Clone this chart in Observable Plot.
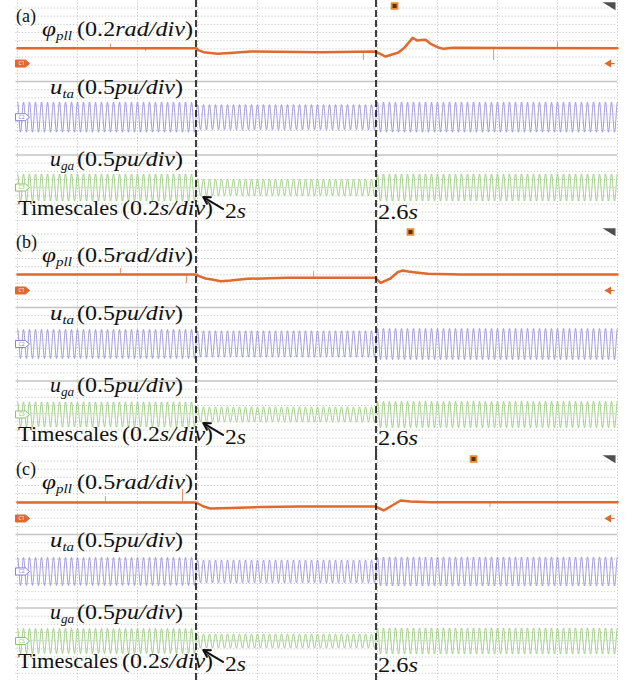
<!DOCTYPE html>
<html><head><meta charset="utf-8">
<script src="https://cdn.jsdelivr.net/npm/d3@7"></script>
<script src="https://cdn.jsdelivr.net/npm/@observablehq/plot@0.6"></script>
<style>
html,body{margin:0;padding:0;background:#fff;}
#wrap{position:relative;width:633px;height:680px;overflow:hidden;}
#wrap > svg{display:block;}
#overlay{position:absolute;left:0;top:0;pointer-events:none;}
</style></head><body><div id="wrap"></div>
<script>
// ---------- layout / scope settings ----------
const W = 633;
const panelNames = ["(a)", "(b)", "(c)"];
const panelTop = [0, 226, 453];
const panelH = [226, 227, 227];
const tStart = 1.405, tEnd = 3.405;                 // 0.2 s/div, 10 div
const gridTimes = [1.405, 1.605, 1.805, 2.005, 2.205, 2.405, 2.605, 2.805, 3.005, 3.205, 3.405];
const divLines = [0,1,2,3,4,5,6,7,8,10,11,12,13,14,15,16,17,19,20,21,22,23,24,25,26,27];
const sepDivs = [9, 18];
const eventTimes = [2.0, 2.6];
const gridHz = 50;

// ---------- channel scales / offsets ----------
const phiScaleLabels = ["0.2", "0.5", "0.5"];      // rad/div
const phiScale = [0.2, 0.5, 0.5];
const uScale = 0.5;                                 // pu/div
const phiZero = [6.8, 6.92, 7.04];                  // div from top
const utaZero = [13.37, 13.47, 13.53];
const ugaZero = [21.98, 22.1, 22.04];
const trigTime = [2.662, 2.715, 2.925];

// ---------- phi_pll (rad) ----------
const phiA_t = [1.405, 2.000, 2.008, 2.025, 2.072, 2.125, 2.182, 2.415, 2.598, 2.612, 2.632, 2.675, 2.695, 2.722, 2.738, 2.752, 2.765, 2.782, 2.805, 2.825, 2.858, 3.405];
const phiA_v = [0.375, 0.375, 0.33, 0.277, 0.238, 0.262, 0.294, 0.277, 0.294, 0.245, 0.171, 0.27, 0.39, 0.629, 0.563, 0.575, 0.58, 0.482, 0.40, 0.36, 0.385, 0.375];
const phiB_t = [1.405, 2.000, 2.010, 2.032, 2.058, 2.082, 2.115, 2.172, 2.305, 2.598, 2.615, 2.648, 2.672, 2.688, 2.708, 2.725, 2.772, 2.882, 3.405];
const phiB_v = [0.98, 0.98, 0.88, 0.735, 0.655, 0.57, 0.61, 0.716, 0.78, 0.78, 0.47, 0.735, 1.12, 1.22, 1.16, 1.12, 1.02, 0.98, 0.98];
const phiC_t = [1.405, 2.000, 2.025, 2.048, 2.115, 2.215, 2.348, 2.598, 2.625, 2.648, 2.682, 2.715, 2.782, 3.405];
const phiC_v = [0.98, 0.98, 0.735, 0.61, 0.64, 0.70, 0.735, 0.735, 0.49, 0.735, 1.10, 1.04, 1.0, 1.0];
// noise spikes on phi: time, base, tip (rad)
const spikesA = [[1.715, 0.375, 0.47], [1.832, 0.375, 0.29], [2.558, 0.277, 0.073], [2.992, 0.38, 0.073], [3.205, 0.38, 0.51]];
const spikesB = [[1.748, 0.98, 1.35], [1.968, 0.98, 0.43], [2.392, 0.78, 1.18]];
const spikesC = [[1.698, 0.98, 1.35], [1.955, 0.98, 1.78], [2.98, 1.0, 0.67]];

// ---------- u_ta, u_ga peak amplitudes (pu) for t<2s, 2..2.6s, t>2.6s ----------
const segEdges = [2.0, 2.6];
const utaAmpA = [0.92, 0.77, 0.92], ugaAmpA = [0.83, 0.51, 0.83];
const utaAmpB = [0.89, 0.81, 0.95], ugaAmpB = [0.77, 0.46, 0.81];
const utaAmpC = [0.86, 0.70, 0.89], ugaAmpC = [0.77, 0.43, 0.80];

const phiT = [phiA_t, phiB_t, phiC_t], phiV = [phiA_v, phiB_v, phiC_v];
const spikes = [spikesA, spikesB, spikesC];
const utaAmps = [utaAmpA, utaAmpB, utaAmpC], ugaAmps = [ugaAmpA, ugaAmpB, ugaAmpC];

const orange = "#e0692b", blue = "#8882d6", green = "#86c466", gridC = "#bcbcbc";

function acSignal(amps, zero) {
  const out = [];
  const n = Math.round((tEnd - tStart) / 0.0005);
  for (let k = 0; k <= n; k++) {
    const t = tStart + k * 0.0005;
    const seg = t < segEdges[0] ? 0 : t < segEdges[1] ? 1 : 2;
    out.push({t, y: zero - amps[seg] * Math.sin(2 * Math.PI * gridHz * t) / uScale});
  }
  return out;
}

const tagSym = {draw(c) { c.moveTo(-7, -3.5); c.lineTo(3, -3.5); c.lineTo(7, 0); c.lineTo(3, 3.5); c.lineTo(-7, 3.5); c.closePath(); }};
const leftArrowSym = {draw(c) { c.moveTo(-4, 0); c.lineTo(1, -3); c.lineTo(1, 3); c.closePath(); c.moveTo(1, 0); c.lineTo(5, 0); }};
const cornerSym = {draw(c) { c.moveTo(-7, -4); c.lineTo(6, -4); c.lineTo(6, 4); c.closePath(); }};

const wrap = document.getElementById("wrap");
for (let i = 0; i < 3; i++) {
  const z = phiZero[i];
  const phi = phiT[i].map((t, k) => ({t, y: z - phiV[i][k] / phiScale[i]}));
  const sp = spikes[i].map(([t, b, tip]) => ({t, y1: z - b / phiScale[i], y2: z - tip / phiScale[i]}));
  const uta = acSignal(utaAmps[i], utaZero[i]);
  const uga = acSignal(ugaAmps[i], ugaZero[i]);
  const chMarks = [
    {t: tStart, y: phiZero[i], fill: orange, stroke: orange, txt: "C1", tc: "#fff"},
    {t: tStart, y: utaZero[i], fill: "#fff", stroke: blue, txt: "C2", tc: blue},
    {t: tStart, y: ugaZero[i], fill: "#fff", stroke: green, txt: "C3", tc: green}
  ];
  const svg = Plot.plot({
    width: W, height: panelH[i], margin: 0,
    x: {domain: [tStart, tEnd], range: [17, 617], axis: null},
    y: {domain: [0, 27], range: [7.5, 228], axis: null},
    style: {background: "white"},
    marks: [
      Plot.ruleY(divLines, {x1: 1.4, x2: tEnd, stroke: gridC, strokeDasharray: "1,2.2", strokeWidth: 1}),
      Plot.ruleX(gridTimes, {y1: -1, y2: 27, stroke: gridC, strokeDasharray: "1,2.2", strokeWidth: 1}),
      Plot.ruleY(sepDivs, {x1: 1.4, x2: tEnd, stroke: "#c4c4c4", strokeWidth: 1.7}),
      Plot.line(uga, {x: "t", y: "y", stroke: green, strokeWidth: 0.8}),
      Plot.line(uta, {x: "t", y: "y", stroke: blue, strokeWidth: 0.8}),
      Plot.ruleX(sp, {x: "t", y1: "y1", y2: "y2", stroke: orange, strokeWidth: 1, strokeOpacity: 0.7}),
      Plot.line(phi, {x: "t", y: "y", stroke: orange, strokeWidth: 2.5}),
      Plot.dot(chMarks, {x: "t", y: "y", symbol: tagSym, r: 5, fill: "fill", stroke: "stroke", strokeWidth: 1, dx: 5}),
      Plot.text(chMarks, {x: "t", y: "y", text: "txt", fill: "tc", fontSize: 5, dx: 4}),
      Plot.dot([{t: tEnd, y: phiZero[i]}], {x: "t", y: "y", symbol: leftArrowSym, r: 4, fill: orange, stroke: orange, strokeWidth: 1.2, dx: -8}),
      Plot.dot([{t: trigTime[i], y: -0.25}], {x: "t", y: "y", symbol: "square", r: 3.3, fill: "#5a3010", stroke: "#e8892b", strokeWidth: 1.8}),
      Plot.dot([{t: tEnd, y: -0.2}], {x: "t", y: "y", symbol: cornerSym, r: 4, fill: "#4e4e4e", dx: -8}),
      Plot.ruleX(eventTimes, {stroke: "#000", strokeDasharray: "7,3", strokeWidth: 1.5}),
      Plot.arrow([{x1: 2.09, y1: 24.6, x2: 2.024, y2: 23.15}], {x1: "x1", y1: "y1", x2: "x2", y2: "y2", stroke: "#111", strokeWidth: 2, headLength: 9})
    ]
  });
  wrap.appendChild(svg);
}

// ---------- text overlay ----------
const ov = d3.select(wrap).append("svg").attr("id", "overlay").attr("width", W).attr("height", 680);
const FONT = "'Liberation Serif', 'Times New Roman', serif";
function label(x, y, parts, len, size = 20) {
  const t = ov.append("text").attr("x", x).attr("y", y).attr("font-family", FONT)
    .attr("font-size", size).attr("fill", "#111");
  if (len) t.attr("textLength", len).attr("lengthAdjust", "spacingAndGlyphs");
  parts.forEach(p => {
    const s = t.append("tspan").text(p.s);
    if (p.i) s.attr("font-style", "italic");
    if (p.sub) s.attr("font-size", 12).attr("dy", 4);
  });
}
for (let i = 0; i < 3; i++) {
  const o = panelTop[i];
  label(16, o + 22, [{s: panelNames[i]}], null, 18);
  label(42, o + 36, [{s: "φ", i: 1}, {s: "pll", i: 1, sub: 1}], 30);
  label(77, o + 36, [{s: "(" + phiScaleLabels[i]}, {s: "rad/div", i: 1}, {s: ")"}], 116);
  label(50, o + 94, [{s: "u", i: 1}, {s: "ta", i: 1, sub: 1}], 24);
  label(77, o + 94, [{s: "(0.5"}, {s: "pu/div", i: 1}, {s: ")"}], 106);
  label(50, o + 166, [{s: "u", i: 1}, {s: "ga", i: 1, sub: 1}], 24);
  label(77, o + 166, [{s: "(0.5"}, {s: "pu/div", i: 1}, {s: ")"}], 106);
  label(18, o + 215, [{s: "Timescales"}], 100);
  label(122, o + 215, [{s: "(0.2"}, {s: "s/div", i: 1}, {s: ")"}], 91);
  label(225, o + 218, [{s: "2"}, {s: "s", i: 1}], 21);
  label(378, o + 219, [{s: "2.6"}, {s: "s", i: 1}], 40);
}
</script></body></html>
